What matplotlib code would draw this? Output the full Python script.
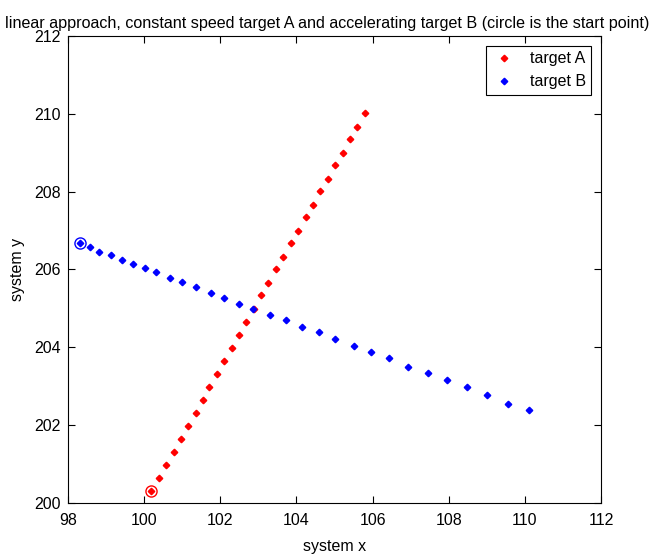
import numpy as np
import matplotlib.pyplot as plt

# target A, constant speed
ax_x = [100.18, 100.39, 100.58, 100.78, 100.97, 101.16, 101.35, 101.55, 101.71, 101.91,
        102.11, 102.30, 102.49, 102.68, 102.88, 103.07, 103.26, 103.46, 103.66, 103.85,
        104.04, 104.24, 104.44, 104.63, 104.83, 105.02, 105.22, 105.41, 105.60, 105.80]
ax_y = [200.30, 200.65, 200.97, 201.32, 201.64, 201.99, 202.30, 202.65, 202.97, 203.32,
        203.64, 203.99, 204.31, 204.66, 204.98, 205.34, 205.65, 206.00, 206.33, 206.67,
        206.99, 207.34, 207.66, 208.02, 208.32, 208.68, 209.00, 209.35, 209.67, 210.02]

# target B, accelerating
bx_x = [98.32, 98.57, 98.82, 99.12, 99.41, 99.70, 100.03, 100.32, 100.67, 101.00,
        101.35, 101.75, 102.11, 102.49, 102.87, 103.31, 103.72, 104.15, 104.59, 105.02,
        105.50, 105.96, 106.44, 106.92, 107.45, 107.96, 108.48, 109.00, 109.56, 110.10]
bx_y = [206.67, 206.57, 206.46, 206.36, 206.25, 206.15, 206.04, 205.94, 205.79, 205.69,
        205.54, 205.40, 205.26, 205.12, 204.98, 204.84, 204.71, 204.53, 204.39, 204.21,
        204.03, 203.89, 203.72, 203.50, 203.33, 203.15, 202.97, 202.77, 202.55, 202.38]

plt.rcParams['font.family'] = ['Liberation Sans', 'DejaVu Sans']
plt.rcParams['font.size'] = 11

fig = plt.figure(figsize = (6.58, 5.57), dpi = 100)
ax = fig.add_axes([68 / 658, 54 / 557, 533 / 658, 467 / 557])

ax.plot(ax_x, ax_y, linestyle = "none", marker = "D", markersize = 3.3, color = "red", label = "target A")
ax.plot(bx_x, bx_y, linestyle = "none", marker = "D", markersize = 3.3, color = "blue", label = "target B")

# start points
ax.plot(ax_x[0], ax_y[0], linestyle = "none", marker = "o", markersize = 8, markerfacecolor = "none",
        markeredgecolor = "red", markeredgewidth = 1.0)
ax.plot(bx_x[0], bx_y[0], linestyle = "none", marker = "o", markersize = 8, markerfacecolor = "none",
        markeredgecolor = "blue", markeredgewidth = 1.0)

ax.set_xlim(98, 112)
ax.set_ylim(200, 212)
ax.set_xticks(np.arange(98, 113, 2))
ax.set_yticks(np.arange(200, 213, 2))
ax.tick_params(direction = "in", top = True, right = True, length = 5, width = 0.8, labelsize = 11.5)
ax.tick_params(axis = "x", pad = 7)
ax.tick_params(axis = "y", pad = 5)
for s in ax.spines.values():
    s.set_linewidth(0.8)

ax.set_xlabel("system x", fontsize = 11.5, labelpad = 8)
ax.set_ylabel("system y", fontsize = 11.5, labelpad = 7)
ax.set_title("linear approach, constant speed target A and accelerating target B (circle is the start point)",
             fontsize = 11.6, pad = 6, x = 0.487)

leg = ax.legend(loc = "upper right", fancybox = False, edgecolor = "black", framealpha = 1,
                handlelength = 1.6, borderpad = 0.35, fontsize = 11.5, borderaxespad = 0.6)
leg.get_frame().set_linewidth(0.8)

plt.savefig("out.png", dpi = 100)
